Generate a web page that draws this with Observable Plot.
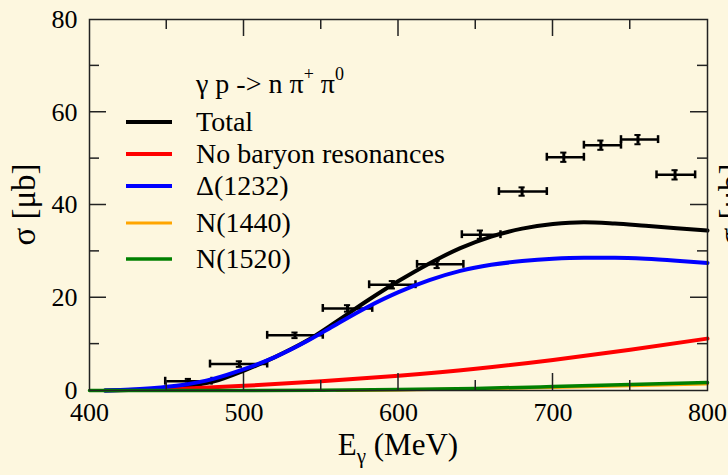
<!DOCTYPE html>
<html><head><meta charset="utf-8">
<script src="https://cdn.jsdelivr.net/npm/d3@7"></script>
<script src="https://cdn.jsdelivr.net/npm/@observablehq/plot@0.6"></script>
<style>body{margin:0;background:#fdf7df;overflow:hidden}</style>
</head><body><div id="chart"></div>
<script>
// ---- data ----
const xTicks = [400, 500, 600, 700, 800];
const yTicks = [0, 20, 40, 60, 80];
const xMinor = [450, 550, 650, 750];
const yMinor = [10, 30, 50, 70];

const gridE = [410,420,440,460,480,500,520,540,560,580,600,620,640,660,680,700,720,740,760,780,800];
const totalSigma = [0.0,0.05,0.3,0.8,1.9,4.3,7.2,10.6,14.9,19.4,23.6,27.4,30.7,33.2,34.9,35.9,36.3,36.0,35.5,35.0,34.5];
const deltaSigma = [0.0,0.1,0.5,1.2,2.5,4.6,7.2,10.5,14.3,18.0,21.2,23.8,25.8,27.1,27.9,28.4,28.6,28.6,28.4,28.0,27.5];
const bgE = [450,500,550,600,650,700,750,800];
const bgSigma = [0.2,1.0,2.0,3.2,4.7,6.6,8.8,11.2];
const n1440E = [560,600,650,700,750,800];
const n1440Sigma = [0.0,0.1,0.35,0.65,1.0,1.4];
const n1520E = [400,500,550,600,650,700,750,800];
const n1520Sigma = [0.0,0.0,0.05,0.2,0.45,0.85,1.3,1.7];

const dataE = [464, 497, 533, 567, 596, 625, 653, 680, 707, 731, 755, 779];
const dataSigma = [2.0, 5.7, 11.9, 17.7, 22.8, 27.2, 33.6, 42.9, 50.3, 52.9, 54.1, 46.5];
const dataElo = [449, 478, 515, 551, 581, 612, 641, 665, 696, 720, 744, 767];
const dataEhi = [479, 515, 551, 583, 611, 642, 666, 696, 720, 744, 768, 792];
const dataErr = [0.5, 0.6, 0.6, 0.7, 0.8, 0.8, 0.9, 0.9, 1.0, 1.0, 1.0, 1.0];

const seriesNames = ["Total", "No baryon resonances", "\u0394(1232)", "N(1440)", "N(1520)"];
const seriesColors = ["#000000", "#ff0000", "#0000ff", "#ffa500", "#008000"];

// ---- build tables ----
const mk = (E, S) => E.map((e, i) => ({E: e, s: S[i]}));
const total = mk(gridE, totalSigma);
const delta = mk(gridE, deltaSigma);
const bg = mk(bgE, bgSigma);
const n1440 = mk(n1440E, n1440Sigma);
const n1520 = mk(n1520E, n1520Sigma);
const pts = dataE.map((e, i) => ({E: e, s: dataSigma[i], lo: dataElo[i], hi: dataEhi[i], err: dataErr[i]}));

const capY = 0.85, capX = 2;
const font = "'Liberation Serif', 'Times New Roman', serif";

const chart = Plot.plot({
  width: 728, height: 475,
  marginLeft: 89, marginRight: 21, marginTop: 19, marginBottom: 85,
  x: {domain: [400, 800]},
  y: {domain: [0, 80]},
  style: {background: "#fdf7df", fontFamily: font, fontSize: "26px", color: "#000"},
  marks: [
    Plot.axisX({ticks: xTicks, tickSize: 0, tickPadding: 12, label: null, fontSize: 26, fill: "#000"}),
    Plot.axisY({ticks: yTicks, tickSize: 0, tickPadding: 12, label: null, fontSize: 26, fill: "#000"}),
    // error bars
    Plot.ruleY(pts, {y: "s", x1: "lo", x2: "hi", stroke: "#000", strokeWidth: 2.5}),
    Plot.ruleX(pts, {x: "lo", y1: d => d.s - capY, y2: d => d.s + capY, stroke: "#000", strokeWidth: 2.5}),
    Plot.ruleX(pts, {x: "hi", y1: d => d.s - capY, y2: d => d.s + capY, stroke: "#000", strokeWidth: 2.5}),
    Plot.ruleX(pts, {x: "E", y1: d => d.s - d.err, y2: d => d.s + d.err, stroke: "#000", strokeWidth: 3}),
    Plot.ruleY(pts, {y: d => d.s - d.err, x1: d => d.E - capX, x2: d => d.E + capX, stroke: "#000", strokeWidth: 2}),
    Plot.ruleY(pts, {y: d => d.s + d.err, x1: d => d.E - capX, x2: d => d.E + capX, stroke: "#000", strokeWidth: 2}),
    // curves
    Plot.line(total, {x: "E", y: "s", stroke: seriesColors[0], strokeWidth: 4, curve: "monotone-x"}),
    Plot.line(bg, {x: "E", y: "s", stroke: seriesColors[1], strokeWidth: 4, curve: "monotone-x"}),
    Plot.line(delta, {x: "E", y: "s", stroke: seriesColors[2], strokeWidth: 4, curve: "monotone-x"}),
    Plot.line(n1440, {x: "E", y: "s", stroke: seriesColors[3], strokeWidth: 3, curve: "monotone-x"}),
    Plot.line(n1520, {x: "E", y: "s", stroke: seriesColors[4], strokeWidth: 3.5, curve: "monotone-x"}),
    Plot.frame({stroke: "#222", strokeWidth: 1.5})
  ]
});

document.getElementById("chart").appendChild(chart);

// ---- inward ticks on all four sides ----
const svg = d3.select(chart);
const xs = chart.scale("x"), ys = chart.scale("y");
const [x0, x1] = xs.range, [y0, y1] = ys.range; // y0 bottom, y1 top
const tg = svg.append("g").attr("stroke", "#222").attr("stroke-width", 1.5);
const addX = (vals, len) => vals.forEach(v => {
  const px = xs.apply(v);
  tg.append("line").attr("x1", px).attr("x2", px).attr("y1", y0).attr("y2", y0 - len);
  tg.append("line").attr("x1", px).attr("x2", px).attr("y1", y1).attr("y2", y1 + len);
});
const addY = (vals, len) => vals.forEach(v => {
  const py = ys.apply(v);
  tg.append("line").attr("y1", py).attr("y2", py).attr("x1", x0).attr("x2", x0 + len);
  tg.append("line").attr("y1", py).attr("y2", py).attr("x1", x1).attr("x2", x1 - len);
});
addX(xTicks.slice(1, -1), 17); addX(xMinor, 10);
addY(yTicks.slice(1, -1), 17); addY(yMinor, 10);

// ---- axis labels ----
const xl = svg.append("text").attr("x", (x0 + x1) / 2).attr("y", 455).attr("text-anchor", "middle")
  .attr("font-size", 31).attr("font-family", font).attr("fill", "#000");
xl.append("tspan").text("E");
xl.append("tspan").attr("font-size", 21).attr("dy", 8).text("\u03b3");
xl.append("tspan").attr("dy", -8).text(" (MeV)");

const ylab = (x) => svg.append("text").attr("transform", `translate(${x},${(y0 + y1) / 2}) rotate(-90)`)
  .attr("text-anchor", "middle").attr("font-size", 33).attr("font-family", font).attr("fill", "#000")
  .text("\u03c3 [\u03bcb]");
ylab(35);
ylab(742);

// ---- legend ----
const lg = svg.append("g").attr("font-family", font).attr("font-size", 28).attr("fill", "#000")
  .attr("text-anchor", "start");
const title = lg.append("text").attr("x", 196).attr("y", 93);
title.append("tspan").text("\u03b3 p -> n \u03c0");
title.append("tspan").attr("font-size", 18).attr("dy", -13).text("+");
title.append("tspan").attr("dy", 13).text(" \u03c0");
title.append("tspan").attr("font-size", 18).attr("dy", -13).text("0");
const rowY = [122, 154, 186, 223, 259];
const rowW = [4, 4, 4, 3, 3.5];
seriesNames.forEach((name, i) => {
  lg.append("line").attr("x1", 126).attr("x2", 172).attr("y1", rowY[i]).attr("y2", rowY[i])
    .attr("stroke", seriesColors[i]).attr("stroke-width", rowW[i]);
  lg.append("text").attr("x", 196).attr("y", rowY[i] + 9).text(name);
});
</script></body></html>
